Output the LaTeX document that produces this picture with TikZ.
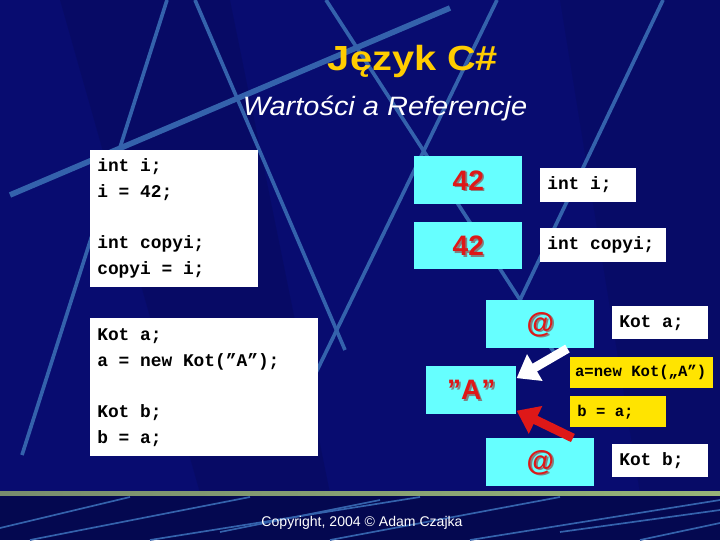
\documentclass[tikz,border=0pt]{standalone}
\usepackage{fontspec}
\setmainfont{Liberation Sans}
\setmonofont{Liberation Mono}
\usepackage{tikz}
\usetikzlibrary{calc, arrows.meta}
\definecolor{slidebg}{RGB}{8,12,112}
\definecolor{slidebot}{RGB}{4,8,80}
\definecolor{streak}{RGB}{52,98,172}
\definecolor{valcyan}{RGB}{102,255,255}
\definecolor{valred}{RGB}{222,24,24}
\definecolor{shadegray}{RGB}{130,130,130}
\definecolor{titleyel}{RGB}{255,204,0}
\definecolor{noteyel}{RGB}{255,228,0}
\newcommand{\redshade}[1]{\makebox[0pt][l]{\raisebox{-1.2pt}[0pt][0pt]{\hspace{1.2pt}\textcolor{shadegray}{#1}}}#1}
\newcommand{\tsp}{\hphantom{x}}
\tikzset{
	code/.style={fill=white, text=black, anchor=north west, align=left, inner xsep=0.175cm, inner ysep=0,
		font=\ttfamily\bfseries\fontsize{12.7}{18.5}\selectfont},
	valbox/.style={fill=valcyan, text=valred, anchor=north west, inner sep=0,
		font=\bfseries\fontsize{20}{24}\selectfont},
	namebox/.style={fill=white, text=black, anchor=north west, align=left, inner xsep=0.175cm, inner ysep=0,
		minimum height=0.84cm, font=\ttfamily\bfseries\fontsize{12.7}{15}\selectfont},
	notebox/.style={fill=noteyel, text=black, anchor=north west, align=left, inner xsep=0.175cm, inner ysep=0,
		minimum height=0.775cm, font=\ttfamily\bfseries\fontsize{11.1}{13}\selectfont},
	refarrow/.style={line width=6.4pt, -{Triangle[length=15pt, width=21pt]}},
	streakline/.style={streak, line width=2.6pt}
}
\begin{document}
\begin{tikzpicture}[x=0.025cm, y=-0.025cm]
	\useasboundingbox (0,0) rectangle (720,540);
	% background
	\fill[slidebg] (0,0) rectangle (720,493);
	\fill[slidebot] (0,493) rectangle (720,540);
	\fill[black, opacity=0.09] (60,0) -- (230,0) -- (330,493) -- (200,493) -- cycle;
	\fill[black, opacity=0.08] (560,0) -- (720,0) -- (720,493) -- (640,493) -- cycle;
	\draw[streakline] (167,0) -- (22,455);
	\draw[streakline] (195,0) -- (345,350);
	\draw[streakline, line width=4pt] (10,195) -- (450,8);
	\draw[streakline] (497,0) -- (310,385);
	\draw[streakline] (663,0) -- (520,300);
	\draw[streakline] (326,0) -- (557,357);
	\foreach \xa/\ya/\xb/\yb in {0/528/130/497, 30/540/250/497, 150/540/420/497, 220/532/380/500,
		330/540/560/497, 470/540/720/500, 560/532/720/510, 640/540/720/523}
		\draw[streak, line width=1.2pt] (\xa,\ya) -- (\xb,\yb);
	\shade[left color={rgb,255:red,120;green,140;blue,110}, middle color={rgb,255:red,192;green,228;blue,150},
		right color={rgb,255:red,150;green,180;blue,120}] (0,491) rectangle (720,495);

	% titles
	\node[text=titleyel, font=\bfseries\fontsize{24.8}{30}\selectfont, xscale=1.14, anchor=base] (title) at (413,70) {Język C\#};
	\node[text=white, font=\itshape\fontsize{18.9}{23}\selectfont, xscale=1.09, anchor=base] (subtitle) at (385,115) {Wartości a Referencje};

	% source code
	\node[code, text width=3.85cm, minimum height=3.425cm] (vals) at (90,150)
		{int\tsp i;\\ i\tsp=\tsp42;\\[17.8pt] int\tsp copyi;\\ copyi\tsp=\tsp i;};
	\node[code, text width=5.35cm, minimum height=3.45cm] (refs) at (90,318)
		{Kot\tsp a;\\ a\tsp=\tsp new\tsp Kot(”A”);\\[17.8pt] Kot\tsp b;\\ b\tsp=\tsp a;};

	% value types
	\node[valbox, minimum width=2.7cm, minimum height=1.2cm] (valI) at (414,156) {\redshade{42}};
	\node[valbox, minimum width=2.7cm, minimum height=1.175cm] (valCopy) at (414,222) {\redshade{42}};
	\node[namebox, text width=2.05cm] (nameI) at (540,168) {int\tsp i;};
	\node[namebox, text width=2.8cm] (nameCopy) at (540,228) {int\tsp copyi;};

	% reference types
	\node[valbox, minimum width=2.7cm, minimum height=1.2cm] (refA) at (486,300) {\redshade{@}};
	\node[namebox, text width=2.05cm, minimum height=0.825cm] (nameA) at (612,306) {Kot\tsp a;};
	\node[valbox, minimum width=2.25cm, minimum height=1.2cm] (objA) at (426,366) {\redshade{”A”}};
	\node[notebox, inner xsep=0.12cm, text width=3.335cm] (noteNew) at (570,357) {a=new\tsp Kot(„A”)};
	\node[notebox, text width=2.05cm] (noteCopy) at (570,396) {b\tsp=\tsp a;};
	\node[valbox, minimum width=2.7cm, minimum height=1.2cm] (refB) at (486,438) {\redshade{@}};
	\node[namebox, text width=2.05cm, minimum height=0.825cm] (nameB) at (612,444) {Kot\tsp b;};

	\draw[refarrow, white] ($(refA.south)!0.5!(refA.south east)$) -- ($(objA.north east)!0.25!(objA.south east)$);
	\draw[refarrow, valred] ($(refB.north)!0.6!(refB.north east)$) -- ($(objA.north east)!0.92!(objA.south east)$);

	\node[text=white, font=\fontsize{10}{12}\selectfont, anchor=base] (copy) at (362,526) {Copyright, 2004 © Adam Czajka};
\end{tikzpicture}
\end{document}
